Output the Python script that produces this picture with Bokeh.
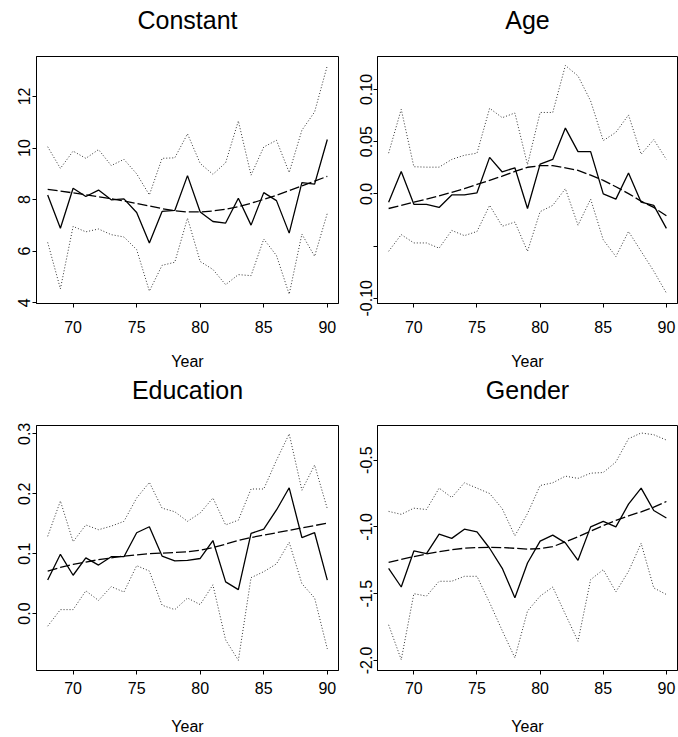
from bokeh.plotting import figure
from bokeh.layouts import column, row
from bokeh.models import Range1d, FixedTicker, LinearAxis
from bokeh.embed import file_html
from bokeh.resources import INLINE

years = list(range(68, 91))

const_est = [8.18, 6.89, 8.44, 8.12, 8.37, 7.99, 8.03, 7.50, 6.32, 7.54, 7.58, 8.93, 7.52, 7.15, 7.09, 8.05, 7.01, 8.27, 7.96, 6.70, 8.66, 8.60, 10.33]
const_upper = [10.05, 9.21, 9.88, 9.60, 9.94, 9.32, 9.56, 9.00, 8.18, 9.60, 9.62, 10.55, 9.40, 8.98, 9.43, 11.05, 8.95, 10.04, 10.30, 9.05, 10.69, 11.40, 13.20]
const_lower = [6.34, 4.54, 6.96, 6.75, 6.86, 6.64, 6.55, 6.06, 4.45, 5.45, 5.57, 7.28, 5.60, 5.29, 4.70, 5.09, 5.05, 6.47, 5.83, 4.33, 6.66, 5.80, 7.47]
const_smooth = [8.40, 8.33, 8.26, 8.19, 8.11, 8.03, 7.95, 7.85, 7.75, 7.65, 7.57, 7.52, 7.52, 7.56, 7.63, 7.72, 7.86, 8.01, 8.17, 8.35, 8.53, 8.72, 8.90]

age_est = [-0.008, 0.0215, -0.010, -0.010, -0.013, -0.001, -0.001, 0.001, 0.035, 0.021, 0.025, -0.014, 0.0285, 0.033, 0.063, 0.0405, 0.0405, 0.0, -0.005, 0.020, -0.008, -0.011, -0.033]
age_upper = [0.039, 0.081, 0.026, 0.0256, 0.0256, 0.033, 0.037, 0.039, 0.082, 0.073, 0.0775, 0.028, 0.078, 0.078, 0.123, 0.113, 0.089, 0.051, 0.059, 0.0756, 0.038, 0.052, 0.033]
age_lower = [-0.055, -0.039, -0.047, -0.047, -0.052, -0.035, -0.040, -0.036, -0.011, -0.031, -0.027, -0.055, -0.017, -0.011, 0.005, -0.030, -0.005, -0.044, -0.060, -0.036, -0.055, -0.074, -0.095]
age_smooth = [-0.014, -0.011, -0.008, -0.005, -0.002, 0.0015, 0.005, 0.009, 0.013, 0.017, 0.0215, 0.0255, 0.027, 0.027, 0.025, 0.0225, 0.018, 0.013, 0.0068, 0.0003, -0.007, -0.013, -0.021]

edu_est = [0.056, 0.099, 0.064, 0.093, 0.081, 0.095, 0.095, 0.135, 0.145, 0.096, 0.088, 0.089, 0.092, 0.122, 0.053, 0.040, 0.134, 0.141, 0.173, 0.210, 0.127, 0.135, 0.056]
edu_upper = [0.129, 0.188, 0.120, 0.148, 0.140, 0.146, 0.154, 0.193, 0.219, 0.176, 0.170, 0.154, 0.168, 0.193, 0.148, 0.156, 0.208, 0.208, 0.256, 0.300, 0.206, 0.248, 0.175]
edu_lower = [-0.021, 0.0066, 0.0066, 0.038, 0.022, 0.045, 0.036, 0.080, 0.071, 0.014, 0.0066, 0.026, 0.015, 0.048, -0.044, -0.078, 0.060, 0.070, 0.083, 0.119, 0.050, 0.026, -0.059]
edu_smooth = [0.071, 0.077, 0.082, 0.086, 0.090, 0.093, 0.096, 0.098, 0.100, 0.101, 0.102, 0.103, 0.106, 0.110, 0.116, 0.122, 0.127, 0.131, 0.135, 0.139, 0.143, 0.147, 0.151]

gender_est = [-1.31, -1.45, -1.18, -1.20, -1.054, -1.086, -1.017, -1.037, -1.16, -1.31, -1.53, -1.27, -1.106, -1.062, -1.12, -1.25, -1.0, -0.958, -1.0, -0.83, -0.71, -0.877, -0.933]
gender_upper = [-0.884, -0.906, -0.86, -0.87, -0.71, -0.78, -0.67, -0.71, -0.75, -0.864, -1.067, -0.90, -0.69, -0.67, -0.62, -0.637, -0.598, -0.593, -0.514, -0.34, -0.297, -0.31, -0.35]
gender_lower = [-1.733, -1.994, -1.50, -1.518, -1.407, -1.407, -1.37, -1.37, -1.567, -1.777, -1.98, -1.63, -1.518, -1.45, -1.654, -1.856, -1.395, -1.32, -1.486, -1.333, -1.123, -1.457, -1.506]
gender_smooth = [-1.266, -1.243, -1.222, -1.203, -1.185, -1.171, -1.160, -1.155, -1.153, -1.155, -1.160, -1.166, -1.163, -1.148, -1.112, -1.074, -1.032, -0.990, -0.952, -0.918, -0.887, -0.852, -0.810]

x_ticks = [70, 75, 80, 85, 90]
x_tick_labels = ["70", "75", "80", "85", "90"]

const_ticks = [4, 6, 8, 10, 12]
const_tick_labels = ["4", "6", "8", "10", "12"]
age_ticks = [-0.10, -0.05, 0.0, 0.05, 0.10]
age_tick_labels = ["-0.10", "", "0.0", "0.05", "0.10"]
edu_ticks = [0.0, 0.1, 0.2, 0.3]
edu_tick_labels = ["0.0", "0.1", "0.2", "0.3"]
gender_ticks = [-2.0, -1.5, -1.0, -0.5]
gender_tick_labels = ["-2.0", "-1.5", "-1.0", "-0.5"]

FONT = "Liberation Sans"
X0, X1 = 67.12, 90.88


def make_panel(title, est, upper, lower, smooth, yticks, ylabels, yr,
               width, height, bl, br, bt, bb, xstand, ystand, lstand, tstand):
    p = figure(width=width, height=height, output_backend="svg",
               toolbar_location=None, x_range=Range1d(X0, X1),
               y_range=Range1d(*yr), min_border_left=bl, min_border_right=br,
               min_border_top=bt, min_border_bottom=bb)
    p.xgrid.visible = False
    p.ygrid.visible = False
    p.outline_line_color = "black"
    p.outline_line_width = 1
    p.background_fill_color = "white"
    p.border_fill_color = "white"

    p.line(years, upper, line_color="#333333", line_width=1, line_dash="1 2")
    p.line(years, lower, line_color="#333333", line_width=1, line_dash="1 2")
    p.line(years, smooth, line_color="black", line_width=1.3, line_dash="10 3")
    p.line(years, est, line_color="black", line_width=1.3)

    xa = p.below[0]
    ya = p.left[0]

    # panel title drawn as the label of an empty axis above the frame
    ta = LinearAxis(ticker=FixedTicker(ticks=[]), axis_label=title,
                    axis_line_color=None, major_tick_line_color=None,
                    minor_tick_line_color=None, major_tick_out=0,
                    major_tick_in=0, major_label_standoff=0,
                    axis_label_standoff=tstand,
                    axis_label_text_font=FONT,
                    axis_label_text_font_size="25px",
                    axis_label_text_font_style="normal",
                    axis_label_text_color="black")
    p.add_layout(ta, "above")

    xa.ticker = FixedTicker(ticks=x_ticks)
    xa.major_label_overrides = {t: l for t, l in zip(x_ticks, x_tick_labels)}
    xa.axis_label = "Year"
    xa.axis_label_text_font = FONT
    xa.axis_label_text_font_size = "16px"
    xa.axis_label_text_font_style = "normal"
    xa.axis_label_standoff = lstand
    xa.major_label_text_font = FONT
    xa.major_label_text_font_size = "16px"
    xa.major_label_standoff = xstand

    ya.ticker = FixedTicker(ticks=yticks)
    ya.major_label_overrides = {t: l for t, l in zip(yticks, ylabels)}
    ya.major_label_orientation = "vertical"
    ya.major_label_text_font = FONT
    ya.major_label_text_font_size = "16px"
    ya.major_label_standoff = ystand

    for ax in (xa, ya):
        ax.axis_line_color = "black"
        ax.major_tick_line_color = "black"
        ax.major_tick_out = 4
        ax.major_tick_in = 0
        ax.minor_tick_line_color = None
        ax.major_label_text_color = "black"
        ax.axis_label_text_color = "black"
    return p


p1 = make_panel("Constant", const_est, const_upper, const_lower, const_smooth,
                const_ticks, const_tick_labels, (3.97, 13.55),
                345, 372, 36, 7, 56, 68, 13, 2, 17, 23)
p2 = make_panel("Age", age_est, age_upper, age_lower, age_smooth,
                age_ticks, age_tick_labels, (-0.105, 0.1316),
                333, 372, 32, 1, 56, 68, 13, 1, 17, 23)
p3 = make_panel("Education", edu_est, edu_upper, edu_lower, edu_smooth,
                edu_ticks, edu_tick_labels, (-0.095, 0.314),
                345, 365, 36, 7, 50, 67, 7, 2, 21, 22)
p4 = make_panel("Gender", gender_est, gender_upper, gender_lower, gender_smooth,
                gender_ticks, gender_tick_labels, (-2.075, -0.241),
                333, 365, 32, 1, 50, 67, 7, 1, 21, 22)

layout = column(row(p1, p2), row(p3, p4))

with open("out.html", "w") as f:
    f.write(file_html(layout, INLINE))
